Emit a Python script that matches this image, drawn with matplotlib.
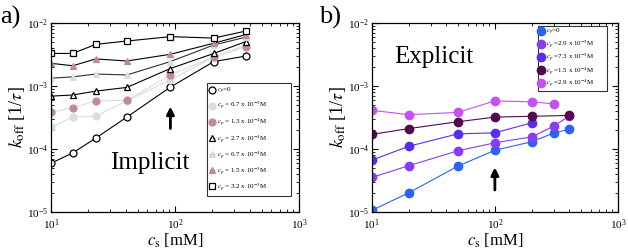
import matplotlib
matplotlib.use('Agg')
import matplotlib.pyplot as plt
from matplotlib.ticker import LogLocator, NullFormatter

plt.rcParams['font.family'] = ['Liberation Serif', 'DejaVu Serif']
plt.rcParams['mathtext.fontset'] = 'stix'

# ---- panel a (implicit) ----
cs_a = [10, 15, 23, 41, 92, 206, 374]
a_labels = [r'$c_p$=0',
            r'$c_p$ = 6.7 x 10$^{-5}$M',
            r'$c_p$ = 1.3 x 10$^{-4}$M',
            r'$c_p$ = 2.7 x 10$^{-4}$M',
            r'$c_p$ = 6.7 x 10$^{-4}$M',
            r'$c_p$ = 1.5 x 10$^{-3}$M',
            r'$c_p$ = 3.2 x 10$^{-3}$M']
a_cp0 = [5.9e-5, 8.6e-5, 1.48e-4, 3.2e-4, 9.6e-4, 2.45e-3, 3.0e-3]
a_cp67e5 = [2.2e-4, 3.2e-4, 3.3e-4, 5.8e-4, 1.25e-3, 2.9e-3, 4.5e-3]
a_cp13e4 = [3.8e-4, 4.5e-4, 5.8e-4, 5.9e-4, 1.5e-3, 2.9e-3, 4.2e-3]
a_cp27e4 = [6.9e-4, 7.2e-4, 8.3e-4, 9.5e-4, 1.9e-3, 3.3e-3, 5.1e-3]
a_cp67e4 = [1.33e-3, 1.4e-3, 1.55e-3, 1.5e-3, 2.45e-3, 4.5e-3, 6.0e-3]
a_cp15e3 = [2.3e-3, 2.1e-3, 2.7e-3, 2.5e-3, 3.2e-3, 4.8e-3, 6.6e-3]
a_cp32e3 = [3.3e-3, 3.3e-3, 4.6e-3, 5.2e-3, 6.1e-3, 5.8e-3, 7.5e-3]

# ---- panel b (explicit) ----
cs_b = [10, 20, 50, 100, 200, 300, 400]
b_labels = [r'$c_p$=0',
            r'$c_p$ =2.9 x 10$^{-5}$M',
            r'$c_p$ =7.3 x 10$^{-5}$M',
            r'$c_p$ =1.5 x 10$^{-4}$M',
            r'$c_p$ =2.9 x 10$^{-4}$M']
b_cp0 = [1.05e-5, 2.0e-5, 5.3e-5, 9.5e-5, 1.3e-4, 1.78e-4, 2.05e-4]
b_cp29e5 = [3.5e-5, 5.4e-5, 9.3e-5, 1.25e-4, 1.55e-4, 2.3e-4, 3.3e-4]
b_cp73e5 = [6.6e-5, 1.1e-4, 1.73e-4, 1.8e-4, 2.6e-4, None, None]
b_cp15e4 = [1.7e-4, 2.1e-4, 2.7e-4, 3.2e-4, 3.3e-4, None, 3.4e-4]
b_cp29e4 = [4.1e-4, 3.5e-4, 3.8e-4, 5.8e-4, 5.6e-4, 5.2e-4, None]

BLACK = 'black'
LGREY = '#dcdcdc'
PINK = '#c08a9c'
b_colors = ['#2a64f6', '#8a3cf2', '#5a2cf2', '#55084f', '#c650f2']

fig = plt.figure(figsize=(6.28, 2.52), dpi=100)
ax_a = fig.add_axes([0.081, 0.16, 0.395, 0.748])
ax_b = fig.add_axes([0.592, 0.16, 0.392, 0.748])

ms = 5
a_styles = [
    (a_cp0, dict(marker='o', mfc='white', mec=BLACK, color=BLACK)),
    (a_cp67e5, dict(marker='o', mfc=LGREY, mec=LGREY, color=LGREY)),
    (a_cp13e4, dict(marker='o', mfc=PINK, mec=PINK, color=LGREY)),
    (a_cp27e4, dict(marker='^', mfc='white', mec=BLACK, color=BLACK)),
    (a_cp67e4, dict(marker='^', mfc=LGREY, mec=LGREY, color='#303030')),
    (a_cp15e3, dict(marker='^', mfc=PINK, mec=PINK, color=BLACK)),
    (a_cp32e3, dict(marker='s', mfc='white', mec=BLACK, color=BLACK)),
]
for (vals, st), lab in zip(a_styles, a_labels):
    ax_a.plot(cs_a, vals, lw=0.8, ms=ms, mew=0.9, label=lab, **st)

for vals, col, lab in zip([b_cp0, b_cp29e5, b_cp73e5, b_cp15e4, b_cp29e4], b_colors, b_labels):
    xs = [x for x, v in zip(cs_b, vals) if v is not None]
    ys = [v for v in vals if v is not None]
    ax_b.plot(xs, ys, marker='o', ms=6, color=col, mfc=col, mec=col, lw=0.8, label=lab)

for ax in (ax_a, ax_b):
    ax.set_xscale('log')
    ax.set_yscale('log')
    ax.set_xlim(10, 1000)
    ax.set_ylim(1e-5, 1e-2)
    ax.xaxis.set_major_locator(LogLocator(base=10, numticks=5))
    ax.yaxis.set_major_locator(LogLocator(base=10, numticks=5))
    ax.xaxis.set_minor_locator(LogLocator(base=10, subs=range(2, 10), numticks=20))
    ax.yaxis.set_minor_locator(LogLocator(base=10, subs=range(2, 10), numticks=20))
    ax.xaxis.set_minor_formatter(NullFormatter())
    ax.yaxis.set_minor_formatter(NullFormatter())
    ax.tick_params(which='both', direction='in', top=True, right=True, labelsize=8)
    ax.tick_params(axis='x', pad=4)
    ax.tick_params(axis='y', pad=2)
    ax.tick_params(which='major', length=4, width=0.8)
    ax.tick_params(which='minor', length=2, width=0.6)
    for s in ax.spines.values():
        s.set_linewidth(0.9)
    ax.set_xlabel(r'$c_{\rm s}$ [mM]', fontsize=12, labelpad=0)
    ax.set_ylabel(r'$k_{\rm off}$ [1/$\tau$]', fontsize=13, labelpad=0)

ax_a.annotate('', xy=(92, 5.2e-4), xytext=(92, 1.9e-4),
              arrowprops=dict(arrowstyle='-|>', color='black', lw=2, mutation_scale=11))
ax_b.annotate('', xy=(100, 5.6e-5), xytext=(100, 2.0e-5),
              arrowprops=dict(arrowstyle='-|>', color='black', lw=2, mutation_scale=11))

ax_a.text(63, 6.0e-5, 'Implicit', fontsize=18, ha='center', va='center')
ax_b.text(32, 2.9e-3, 'Explicit', fontsize=18, ha='center', va='center')

leg_a = ax_a.legend(loc='lower left', bbox_to_anchor=(0.63, 0.083, 0.34, 0.59), mode='expand',
                    fontsize=5, frameon=True, fancybox=False, edgecolor='black',
                    handlelength=0.6, handletextpad=0.4, labelspacing=0.62,
                    borderpad=0.45, borderaxespad=0)
leg_a.get_frame().set_linewidth(0.8)
leg_b = ax_b.legend(loc='upper left', bbox_to_anchor=(0.675, 0.662, 0.28, 0.324), mode='expand',
                    fontsize=5, frameon=True, fancybox=False, edgecolor='black',
                    handlelength=0.6, handletextpad=0.4, labelspacing=0.15,
                    borderpad=0.2, borderaxespad=0)
leg_b.get_frame().set_linewidth(0.8)

fig.text(0.0, 0.93, 'a)', fontsize=19, ha='left', va='center')
fig.text(0.508, 0.93, 'b)', fontsize=19, ha='left', va='center')

fig.savefig('out.png', dpi=100)
